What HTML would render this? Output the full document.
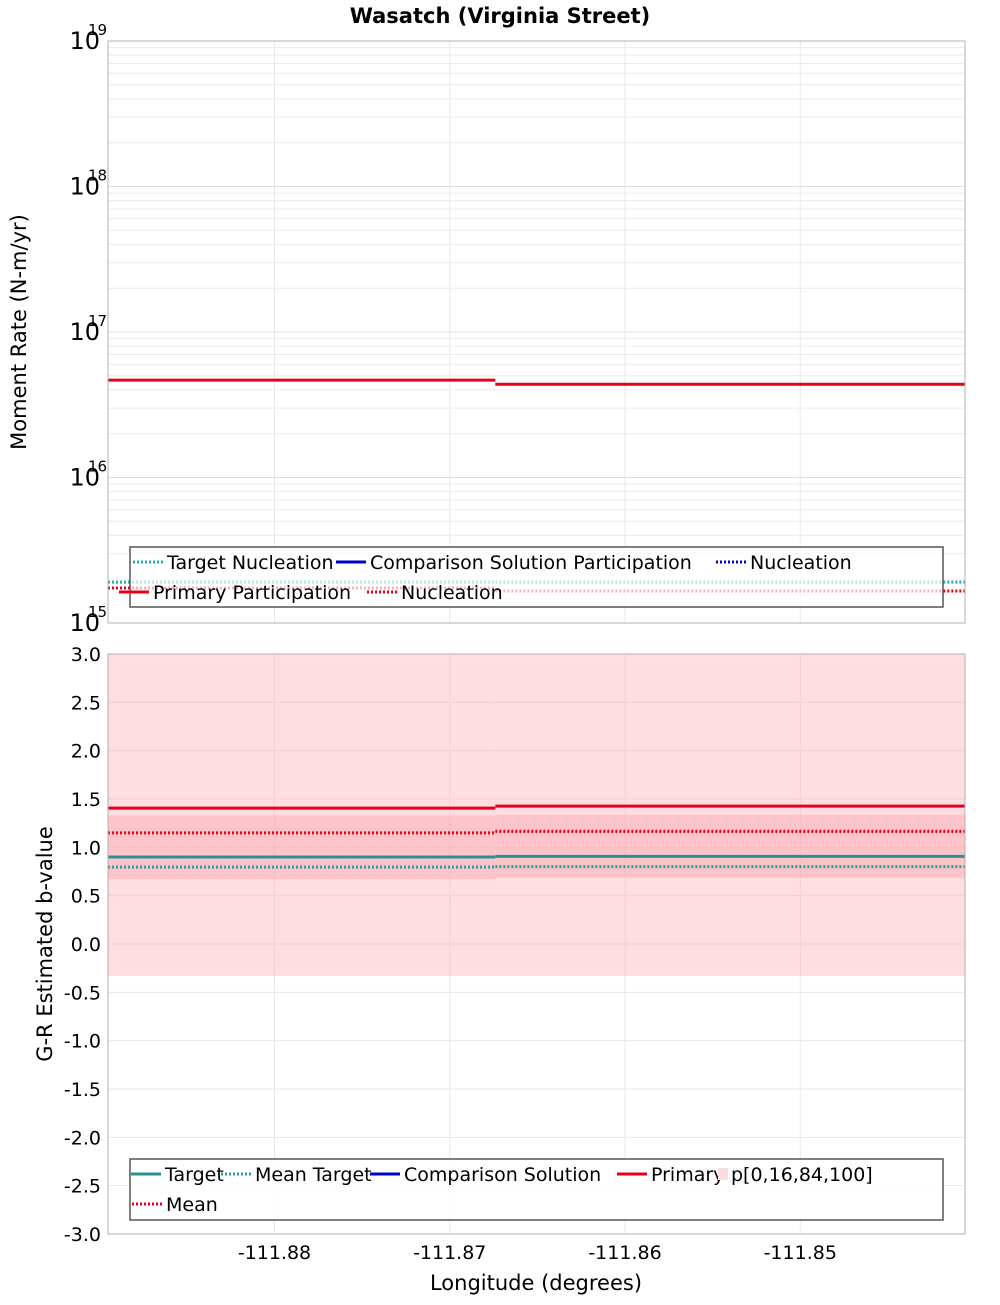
<!DOCTYPE html>
<html><head><meta charset="utf-8"><style>
body{margin:0;background:#fff;font-family:"Liberation Sans","DejaVu Sans",sans-serif}
svg text{font-family:"DejaVu Sans","Liberation Sans",sans-serif}
</style></head><body>
<svg id="c" width="1000" height="1300" xmlns="http://www.w3.org/2000/svg">
<text x="500" y="23" text-anchor="middle" font-size="21" font-weight="bold">Wasatch (Virginia Street)</text>
<g id="topPanel"></g>
<g id="botPanel"></g>
<text transform="translate(26,332) rotate(-90)" text-anchor="middle" font-size="21">Moment Rate (N-m/yr)</text>
<text transform="translate(52,944) rotate(-90)" text-anchor="middle" font-size="21">G-R Estimated b-value</text>
<text x="536" y="1290" text-anchor="middle" font-size="21">Longitude (degrees)</text>
</svg>
<script>
const segEdges=[-111.8895,-111.8674,-111.8406];
const xTicks=[-111.88,-111.87,-111.86,-111.85];
const primaryPart=[4.67e16,4.37e16];
const primaryNucl=[1.74e15,1.66e15];
const targetNucl=[1.91e15,1.91e15];
const decades=[15,16,17,18,19];
const bPrimary=[1.405,1.426];
const bMean=[1.15,1.165];
const bTarget=[0.90,0.907];
const bMeanTarget=[0.795,0.80];
const bP0=[-0.33,-0.33];
const bP100=[3.0,3.0];
const bP16=[0.67,0.68];
const bP84=[1.33,1.34];
const bTicks=[3.0,2.5,2.0,1.5,1.0,0.5,0.0,-0.5,-1.0,-1.5,-2.0,-2.5,-3.0];

const NS="http://www.w3.org/2000/svg";
const L=108,R=965;
const xs=v=>L+(v-segEdges[0])/(segEdges[2]-segEdges[0])*(R-L);
const T1=41,B1=623,T2=654,B2=1234;
const ys1=v=>B1-(Math.log10(v)-15)/4*(B1-T1);
const ys2=v=>T2+(3-v)/6*(B2-T2);
function el(p,t,a){const e=document.createElementNS(NS,t);for(const k in a)e.setAttribute(k,a[k]);p.appendChild(e);return e;}
const topG=document.getElementById('topPanel'),botG=document.getElementById('botPanel');

el(topG,'rect',{x:L,y:T1,width:R-L,height:B1-T1,fill:'#fff'});
for(let d=15;d<19;d++)for(let m=2;m<=9;m++){const y=ys1(m*Math.pow(10,d));
 const g=el(topG,'line',{x1:L,x2:R,y1:y,y2:y,stroke:'#ececec','stroke-width':1});
 
 }
decades.forEach(d=>{const y=ys1(Math.pow(10,d));
 const g=el(topG,'line',{x1:L,x2:R,y1:y,y2:y,stroke:'#e0e0e0'});
 
 
 const t=el(topG,'text',{x:100,y:y+8,'text-anchor':'end','font-size':24});t.textContent='10';
 
 
 const s=el(topG,'text',{x:88,y:y-6,'font-size':15});s.textContent=d;
 
 });
xTicks.forEach(v=>{const x=xs(v);
 const g=el(topG,'line',{x1:x,x2:x,y1:T1,y2:B1,stroke:'#e8e8e8'});
 
 });
function seg(g,arr,ysf,color,w,dash,name){for(let i=0;i<arr.length;i++){
 const l=el(g,'line',{x1:xs(segEdges[i]),x2:xs(segEdges[i+1]),y1:ysf(arr[i]),y2:ysf(arr[i]),stroke:color,'stroke-width':w});
 if(dash)l.setAttribute('stroke-dasharray',dash);
 
 }}
seg(topG,targetNucl,ys1,'#20b2aa',3,'2,2','target-nucleation-line');
seg(topG,primaryNucl,ys1,'#e8001a',3,'2,2','primary-nucleation-line');
seg(topG,primaryPart,ys1,'#e8001a',3,null,'primary-participation-line');
el(topG,'rect',{x:L,y:T1,width:R-L,height:B1-T1,fill:'none',stroke:'#b0b0b0'});
const lg1=el(topG,'g',{});


el(lg1,'rect',{x:130,y:547,width:813,height:60,fill:'rgba(255,255,255,0.7)',stroke:'#555','stroke-width':1.5});
function leg(g,x,y,color,dash,label,name){const l=el(g,'line',{x1:x,x2:x+30,y1:y,y2:y,stroke:color,'stroke-width':3});
 if(dash)l.setAttribute('stroke-dasharray','2,2');
 const t=el(g,'text',{x:x+34,y:y+7,'font-size':19});t.textContent=label;
 
 }
leg(lg1,133,562,'#20b2aa',1,'Target Nucleation','legend-target-nucleation');
leg(lg1,336,562,'#0000cc',0,'Comparison Solution Participation','legend-comparison-participation');
leg(lg1,716,562,'#0000cc',1,'Nucleation','legend-comparison-nucleation');
leg(lg1,119,592,'#e8001a',0,'Primary Participation','legend-primary-participation');
leg(lg1,367,592,'#e8001a',1,'Nucleation','legend-primary-nucleation');

el(botG,'rect',{x:L,y:T2,width:R-L,height:B2-T2,fill:'#fff'});
bTicks.forEach(v=>{const y=ys2(v);
 const g=el(botG,'line',{x1:L,x2:R,y1:y,y2:y,stroke:'#e8e8e8'});
 
 
 const t=el(botG,'text',{x:101,y:y+7,'text-anchor':'end','font-size':19});t.textContent=v.toFixed(1);
 
 });
xTicks.forEach(v=>{const x=xs(v);
 const g=el(botG,'line',{x1:x,x2:x,y1:T2,y2:B2,stroke:'#e8e8e8'});
 
 
 const t=el(botG,'text',{x:x,y:1259,'text-anchor':'middle','font-size':19});t.textContent=v.toFixed(2);
 
 });
for(let i=0;i<2;i++){const x1=xs(segEdges[i]),x2=xs(segEdges[i+1]);
 const o=el(botG,'rect',{x:x1,y:ys2(bP100[i]),width:x2-x1,height:ys2(bP0[i])-ys2(bP100[i]),fill:'rgba(255,160,170,0.35)'});
 
 
 const n=el(botG,'rect',{x:x1,y:ys2(bP84[i]),width:x2-x1,height:ys2(bP16[i])-ys2(bP84[i]),fill:'rgba(255,150,160,0.35)'});
 
 }
seg(botG,bMeanTarget,ys2,'#20a0a0',3,'2,2','mean-target-line');
seg(botG,bTarget,ys2,'#2a9090',3,null,'target-line');
seg(botG,bMean,ys2,'#e8001a',3,'2,2','mean-line');
seg(botG,bPrimary,ys2,'#e8001a',3,null,'primary-line');
el(botG,'rect',{x:L,y:T2,width:R-L,height:B2-T2,fill:'none',stroke:'#b0b0b0'});
const lg2=el(botG,'g',{});


el(lg2,'rect',{x:130,y:1159,width:813,height:61,fill:'rgba(255,255,255,0.85)',stroke:'#555','stroke-width':1.5});
leg(lg2,131,1174,'#2a9090',0,'Target','legend-target');
leg(lg2,221,1174,'#20a0a0',1,'Mean Target','legend-mean-target');
leg(lg2,370,1174,'#0000cc',0,'Comparison Solution','legend-comparison');
leg(lg2,617,1174,'#e8001a',0,'Primary','legend-primary');
el(lg2,'rect',{x:718,y:1168,width:10,height:12,fill:'#ffdcdc'});
const pt=el(lg2,'text',{x:731,y:1181,'font-size':19});pt.textContent='p[0,16,84,100]';


leg(lg2,132,1204,'#e8001a',1,'Mean','legend-mean');
</script>
</body></html>
